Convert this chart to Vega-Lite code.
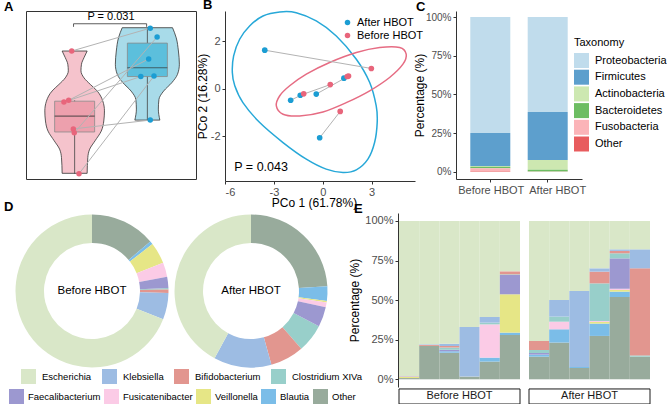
{
  "$schema": "https://vega.github.io/schema/vega-lite/v6.json",
  "background": "white",
  "padding": {"left": 3, "top": -2, "right": 0, "bottom": 0},
  "config": {
    "font": "Liberation Sans",
    "view": {"stroke": null},
    "axis": {"labelFontSize": 11, "labelColor": "#4d4d4d", "titleFontSize": 12, "titleFontWeight": "normal", "titleColor": "#000000", "tickColor": "#333333", "domainColor": "#333333", "tickSize": 3, "grid": false, "labelPadding": 2},
    "legend": {"labelFontSize": 11, "labelColor": "#000000", "titleFontWeight": "normal", "titleColor": "#000000"},
    "title": {"fontSize": 13, "fontWeight": "bold", "anchor": "start", "frame": "group", "baseline": "alphabetic", "offset": -3, "color": "#000000"}
  },
  "datasets": {
    "violin": [
      {"g": "Before HBOT", "y": 0.19, "lo": 0.828, "hi": 1.172},
      {"g": "Before HBOT", "y": 0.55, "lo": 0.819, "hi": 1.181},
      {"g": "Before HBOT", "y": 0.74, "lo": 0.793, "hi": 1.207},
      {"g": "Before HBOT", "y": 0.93, "lo": 0.719, "hi": 1.281},
      {"g": "Before HBOT", "y": 1.15, "lo": 0.634, "hi": 1.366},
      {"g": "Before HBOT", "y": 1.38, "lo": 0.599, "hi": 1.401},
      {"g": "Before HBOT", "y": 1.61, "lo": 0.590, "hi": 1.410},
      {"g": "Before HBOT", "y": 1.83, "lo": 0.612, "hi": 1.388},
      {"g": "Before HBOT", "y": 2.06, "lo": 0.689, "hi": 1.311},
      {"g": "Before HBOT", "y": 2.21, "lo": 0.784, "hi": 1.216},
      {"g": "Before HBOT", "y": 2.36, "lo": 0.871, "hi": 1.129},
      {"g": "Before HBOT", "y": 2.52, "lo": 0.913, "hi": 1.087},
      {"g": "Before HBOT", "y": 2.67, "lo": 0.906, "hi": 1.094},
      {"g": "Before HBOT", "y": 2.82, "lo": 0.871, "hi": 1.129},
      {"g": "Before HBOT", "y": 2.97, "lo": 0.828, "hi": 1.172},
      {"g": "After HBOT", "y": 1.40, "lo": 1.828, "hi": 2.172},
      {"g": "After HBOT", "y": 1.65, "lo": 1.849, "hi": 2.151},
      {"g": "After HBOT", "y": 1.87, "lo": 1.841, "hi": 2.159},
      {"g": "After HBOT", "y": 2.06, "lo": 1.776, "hi": 2.224},
      {"g": "After HBOT", "y": 2.25, "lo": 1.664, "hi": 2.336},
      {"g": "After HBOT", "y": 2.44, "lo": 1.586, "hi": 2.414},
      {"g": "After HBOT", "y": 2.67, "lo": 1.560, "hi": 2.440},
      {"g": "After HBOT", "y": 2.97, "lo": 1.573, "hi": 2.427},
      {"g": "After HBOT", "y": 3.27, "lo": 1.603, "hi": 2.397},
      {"g": "After HBOT", "y": 3.50, "lo": 1.654, "hi": 2.346}
    ],
    "box": [
      {"g": "Before HBOT", "c": 1, "q1": 1.13, "med": 1.49, "q3": 1.83, "lo": 0.18, "hi": 1.85},
      {"g": "After HBOT", "c": 2, "q1": 2.39, "med": 2.59, "q3": 3.15, "lo": 1.40, "hi": 3.49}
    ],
    "apts": [
      {"g": "Before HBOT", "pair": 1, "x": 0.960, "y": 2.97},
      {"g": "Before HBOT", "pair": 2, "x": 0.853, "y": 1.81},
      {"g": "Before HBOT", "pair": 3, "x": 0.918, "y": 1.85},
      {"g": "Before HBOT", "pair": 4, "x": 0.982, "y": 1.20},
      {"g": "Before HBOT", "pair": 5, "x": 0.995, "y": 1.11},
      {"g": "Before HBOT", "pair": 6, "x": 1.060, "y": 0.18},
      {"g": "After HBOT", "pair": 1, "x": 2.040, "y": 3.49},
      {"g": "After HBOT", "pair": 2, "x": 1.910, "y": 2.39},
      {"g": "After HBOT", "pair": 3, "x": 2.018, "y": 2.79},
      {"g": "After HBOT", "pair": 4, "x": 2.040, "y": 1.40},
      {"g": "After HBOT", "pair": 5, "x": 2.134, "y": 3.29},
      {"g": "After HBOT", "pair": 6, "x": 2.091, "y": 2.40}
    ],
    "bracket": [
      {"o": 1, "x": 0.985, "y": 3.52},
      {"o": 2, "x": 0.985, "y": 3.59},
      {"o": 3, "x": 1.99, "y": 3.59},
      {"o": 4, "x": 1.99, "y": 3.52}
    ],
    "bpts": [
      {"g": "After HBOT", "pair": 1, "x": -3.56, "y": 1.63},
      {"g": "After HBOT", "pair": 2, "x": -1.97, "y": -0.48},
      {"g": "After HBOT", "pair": 3, "x": -1.38, "y": -0.27},
      {"g": "After HBOT", "pair": 4, "x": -0.40, "y": -0.22},
      {"g": "After HBOT", "pair": 5, "x": 1.30, "y": 0.45},
      {"g": "After HBOT", "pair": 6, "x": -0.19, "y": -2.06},
      {"g": "Before HBOT", "pair": 1, "x": 2.98, "y": 0.86},
      {"g": "Before HBOT", "pair": 2, "x": -1.17, "y": -0.21},
      {"g": "Before HBOT", "pair": 3, "x": 0.46, "y": 0.18},
      {"g": "Before HBOT", "pair": 4, "x": 1.58, "y": 0.54},
      {"g": "Before HBOT", "pair": 5, "x": 1.50, "y": 0.52},
      {"g": "Before HBOT", "pair": 6, "x": 1.07, "y": -0.95}
    ],
    "ell": [
      {"g": "After HBOT", "i": 1, "x": -5.55, "y": 0.69},
      {"g": "After HBOT", "i": 2, "x": -5.47, "y": 1.39},
      {"g": "After HBOT", "i": 3, "x": -5.10, "y": 2.09},
      {"g": "After HBOT", "i": 4, "x": -4.49, "y": 2.65},
      {"g": "After HBOT", "i": 5, "x": -3.67, "y": 3.07},
      {"g": "After HBOT", "i": 6, "x": -2.64, "y": 3.24},
      {"g": "After HBOT", "i": 7, "x": -1.63, "y": 3.21},
      {"g": "After HBOT", "i": 8, "x": -0.40, "y": 2.86},
      {"g": "After HBOT", "i": 9, "x": 0.83, "y": 2.23},
      {"g": "After HBOT", "i": 10, "x": 2.06, "y": 1.25},
      {"g": "After HBOT", "i": 11, "x": 2.88, "y": 0.27},
      {"g": "After HBOT", "i": 12, "x": 3.28, "y": -0.72},
      {"g": "After HBOT", "i": 13, "x": 3.34, "y": -1.42},
      {"g": "After HBOT", "i": 14, "x": 3.18, "y": -2.26},
      {"g": "After HBOT", "i": 15, "x": 2.77, "y": -2.96},
      {"g": "After HBOT", "i": 16, "x": 2.06, "y": -3.41},
      {"g": "After HBOT", "i": 17, "x": 1.24, "y": -3.52},
      {"g": "After HBOT", "i": 18, "x": 0.21, "y": -3.38},
      {"g": "After HBOT", "i": 19, "x": -1.01, "y": -2.96},
      {"g": "After HBOT", "i": 20, "x": -2.44, "y": -2.26},
      {"g": "After HBOT", "i": 21, "x": -3.87, "y": -1.42},
      {"g": "After HBOT", "i": 22, "x": -4.90, "y": -0.58},
      {"g": "After HBOT", "i": 23, "x": -5.40, "y": 0.13},
      {"g": "Before HBOT", "i": 1, "x": -2.85, "y": -0.72},
      {"g": "Before HBOT", "i": 2, "x": -2.64, "y": -0.29},
      {"g": "Before HBOT", "i": 3, "x": -2.03, "y": 0.13},
      {"g": "Before HBOT", "i": 4, "x": -1.01, "y": 0.62},
      {"g": "Before HBOT", "i": 5, "x": 0.42, "y": 1.11},
      {"g": "Before HBOT", "i": 6, "x": 2.06, "y": 1.53},
      {"g": "Before HBOT", "i": 7, "x": 3.49, "y": 1.74},
      {"g": "Before HBOT", "i": 8, "x": 4.72, "y": 1.74},
      {"g": "Before HBOT", "i": 9, "x": 5.12, "y": 1.46},
      {"g": "Before HBOT", "i": 10, "x": 4.92, "y": 1.04},
      {"g": "Before HBOT", "i": 11, "x": 4.10, "y": 0.48},
      {"g": "Before HBOT", "i": 12, "x": 2.88, "y": -0.08},
      {"g": "Before HBOT", "i": 13, "x": 1.44, "y": -0.58},
      {"g": "Before HBOT", "i": 14, "x": 0.01, "y": -0.97},
      {"g": "Before HBOT", "i": 15, "x": -1.42, "y": -1.14},
      {"g": "Before HBOT", "i": 16, "x": -2.44, "y": -1.07}
    ],
    "phylum": [
      {"period": "Before HBOT", "taxon": "Proteobacteria", "pct": 75.0, "r": 6},
      {"period": "Before HBOT", "taxon": "Firmicutes", "pct": 21.3, "r": 5},
      {"period": "Before HBOT", "taxon": "Actinobacteria", "pct": 0.5, "r": 4},
      {"period": "Before HBOT", "taxon": "Bacteroidetes", "pct": 1.0, "r": 3},
      {"period": "Before HBOT", "taxon": "Fusobacteria", "pct": 1.9, "r": 2},
      {"period": "Before HBOT", "taxon": "Other", "pct": 0.3, "r": 1},
      {"period": "After HBOT", "taxon": "Proteobacteria", "pct": 61.4, "r": 6},
      {"period": "After HBOT", "taxon": "Firmicutes", "pct": 31.0, "r": 5},
      {"period": "After HBOT", "taxon": "Actinobacteria", "pct": 6.3, "r": 4},
      {"period": "After HBOT", "taxon": "Bacteroidetes", "pct": 1.2, "r": 3},
      {"period": "After HBOT", "taxon": "Fusobacteria", "pct": 0.05, "r": 2},
      {"period": "After HBOT", "taxon": "Other", "pct": 0.05, "r": 1}
    ],
    "donut": [
      {"period": "Before HBOT", "genus": "Other", "pct": 13.8, "r": 1},
      {"period": "Before HBOT", "genus": "Blautia", "pct": 0.7, "r": 2},
      {"period": "Before HBOT", "genus": "Veillonella", "pct": 4.5, "r": 3},
      {"period": "Before HBOT", "genus": "Fusicatenibacter", "pct": 3.0, "r": 4},
      {"period": "Before HBOT", "genus": "Faecalibacterium", "pct": 2.4, "r": 5},
      {"period": "Before HBOT", "genus": "Clostridium XIVa", "pct": 0.3, "r": 6},
      {"period": "Before HBOT", "genus": "Bifidobacterium", "pct": 0.7, "r": 7},
      {"period": "Before HBOT", "genus": "Klebsiella", "pct": 5.6, "r": 8},
      {"period": "Before HBOT", "genus": "Escherichia", "pct": 69.0, "r": 9},
      {"period": "After HBOT", "genus": "Other", "pct": 24.0, "r": 1},
      {"period": "After HBOT", "genus": "Blautia", "pct": 3.1, "r": 2},
      {"period": "After HBOT", "genus": "Veillonella", "pct": 0.3, "r": 3},
      {"period": "After HBOT", "genus": "Fusicatenibacter", "pct": 1.0, "r": 4},
      {"period": "After HBOT", "genus": "Faecalibacterium", "pct": 4.2, "r": 5},
      {"period": "After HBOT", "genus": "Clostridium XIVa", "pct": 6.0, "r": 6},
      {"period": "After HBOT", "genus": "Bifidobacterium", "pct": 7.1, "r": 7},
      {"period": "After HBOT", "genus": "Klebsiella", "pct": 12.2, "r": 8},
      {"period": "After HBOT", "genus": "Escherichia", "pct": 42.1, "r": 9}
    ],
    "samples": [
      {"period": "Before HBOT", "sample": 1, "genus": "Other", "pct": 0.8, "r": 1},
      {"period": "Before HBOT", "sample": 1, "genus": "Veillonella", "pct": 0.7, "r": 3},
      {"period": "Before HBOT", "sample": 1, "genus": "Fusicatenibacter", "pct": 0.2, "r": 4},
      {"period": "Before HBOT", "sample": 1, "genus": "Bifidobacterium", "pct": 0.2, "r": 7},
      {"period": "Before HBOT", "sample": 1, "genus": "Klebsiella", "pct": 0.2, "r": 8},
      {"period": "Before HBOT", "sample": 1, "genus": "Escherichia", "pct": 97.9, "r": 9},
      {"period": "Before HBOT", "sample": 2, "genus": "Other", "pct": 21.1, "r": 1},
      {"period": "Before HBOT", "sample": 2, "genus": "Bifidobacterium", "pct": 0.6, "r": 7},
      {"period": "Before HBOT", "sample": 2, "genus": "Klebsiella", "pct": 0.4, "r": 8},
      {"period": "Before HBOT", "sample": 2, "genus": "Escherichia", "pct": 77.9, "r": 9},
      {"period": "Before HBOT", "sample": 3, "genus": "Other", "pct": 16.8, "r": 1},
      {"period": "Before HBOT", "sample": 3, "genus": "Blautia", "pct": 1.0, "r": 2},
      {"period": "Before HBOT", "sample": 3, "genus": "Faecalibacterium", "pct": 0.8, "r": 5},
      {"period": "Before HBOT", "sample": 3, "genus": "Clostridium XIVa", "pct": 1.5, "r": 6},
      {"period": "Before HBOT", "sample": 3, "genus": "Bifidobacterium", "pct": 1.0, "r": 7},
      {"period": "Before HBOT", "sample": 3, "genus": "Klebsiella", "pct": 1.4, "r": 8},
      {"period": "Before HBOT", "sample": 3, "genus": "Escherichia", "pct": 77.5, "r": 9},
      {"period": "Before HBOT", "sample": 4, "genus": "Other", "pct": 1.7, "r": 1},
      {"period": "Before HBOT", "sample": 4, "genus": "Klebsiella", "pct": 31.4, "r": 8},
      {"period": "Before HBOT", "sample": 4, "genus": "Escherichia", "pct": 66.9, "r": 9},
      {"period": "Before HBOT", "sample": 5, "genus": "Other", "pct": 11.2, "r": 1},
      {"period": "Before HBOT", "sample": 5, "genus": "Blautia", "pct": 2.5, "r": 2},
      {"period": "Before HBOT", "sample": 5, "genus": "Fusicatenibacter", "pct": 21.0, "r": 4},
      {"period": "Before HBOT", "sample": 5, "genus": "Clostridium XIVa", "pct": 1.1, "r": 6},
      {"period": "Before HBOT", "sample": 5, "genus": "Klebsiella", "pct": 3.6, "r": 8},
      {"period": "Before HBOT", "sample": 5, "genus": "Escherichia", "pct": 60.6, "r": 9},
      {"period": "Before HBOT", "sample": 6, "genus": "Other", "pct": 28.0, "r": 1},
      {"period": "Before HBOT", "sample": 6, "genus": "Blautia", "pct": 1.5, "r": 2},
      {"period": "Before HBOT", "sample": 6, "genus": "Veillonella", "pct": 24.2, "r": 3},
      {"period": "Before HBOT", "sample": 6, "genus": "Faecalibacterium", "pct": 12.2, "r": 5},
      {"period": "Before HBOT", "sample": 6, "genus": "Clostridium XIVa", "pct": 0.4, "r": 6},
      {"period": "Before HBOT", "sample": 6, "genus": "Bifidobacterium", "pct": 1.9, "r": 7},
      {"period": "Before HBOT", "sample": 6, "genus": "Escherichia", "pct": 31.8, "r": 9},
      {"period": "After HBOT", "sample": 1, "genus": "Other", "pct": 14.3, "r": 1},
      {"period": "After HBOT", "sample": 1, "genus": "Blautia", "pct": 1.3, "r": 2},
      {"period": "After HBOT", "sample": 1, "genus": "Faecalibacterium", "pct": 1.0, "r": 5},
      {"period": "After HBOT", "sample": 1, "genus": "Clostridium XIVa", "pct": 1.9, "r": 6},
      {"period": "After HBOT", "sample": 1, "genus": "Bifidobacterium", "pct": 5.7, "r": 7},
      {"period": "After HBOT", "sample": 1, "genus": "Escherichia", "pct": 75.8, "r": 9},
      {"period": "After HBOT", "sample": 2, "genus": "Other", "pct": 23.2, "r": 1},
      {"period": "After HBOT", "sample": 2, "genus": "Blautia", "pct": 8.4, "r": 2},
      {"period": "After HBOT", "sample": 2, "genus": "Fusicatenibacter", "pct": 4.8, "r": 4},
      {"period": "After HBOT", "sample": 2, "genus": "Clostridium XIVa", "pct": 3.2, "r": 6},
      {"period": "After HBOT", "sample": 2, "genus": "Klebsiella", "pct": 10.5, "r": 8},
      {"period": "After HBOT", "sample": 2, "genus": "Escherichia", "pct": 49.9, "r": 9},
      {"period": "After HBOT", "sample": 3, "genus": "Other", "pct": 7.2, "r": 1},
      {"period": "After HBOT", "sample": 3, "genus": "Blautia", "pct": 0.6, "r": 2},
      {"period": "After HBOT", "sample": 3, "genus": "Klebsiella", "pct": 48.0, "r": 8},
      {"period": "After HBOT", "sample": 3, "genus": "Escherichia", "pct": 44.2, "r": 9},
      {"period": "After HBOT", "sample": 4, "genus": "Other", "pct": 27.4, "r": 1},
      {"period": "After HBOT", "sample": 4, "genus": "Blautia", "pct": 7.8, "r": 2},
      {"period": "After HBOT", "sample": 4, "genus": "Veillonella", "pct": 1.0, "r": 3},
      {"period": "After HBOT", "sample": 4, "genus": "Fusicatenibacter", "pct": 0.6, "r": 4},
      {"period": "After HBOT", "sample": 4, "genus": "Clostridium XIVa", "pct": 23.8, "r": 6},
      {"period": "After HBOT", "sample": 4, "genus": "Bifidobacterium", "pct": 7.4, "r": 7},
      {"period": "After HBOT", "sample": 4, "genus": "Klebsiella", "pct": 2.1, "r": 8},
      {"period": "After HBOT", "sample": 4, "genus": "Escherichia", "pct": 29.9, "r": 9},
      {"period": "After HBOT", "sample": 5, "genus": "Other", "pct": 52.0, "r": 1},
      {"period": "After HBOT", "sample": 5, "genus": "Blautia", "pct": 3.4, "r": 2},
      {"period": "After HBOT", "sample": 5, "genus": "Veillonella", "pct": 1.0, "r": 3},
      {"period": "After HBOT", "sample": 5, "genus": "Fusicatenibacter", "pct": 0.8, "r": 4},
      {"period": "After HBOT", "sample": 5, "genus": "Faecalibacterium", "pct": 19.2, "r": 5},
      {"period": "After HBOT", "sample": 5, "genus": "Clostridium XIVa", "pct": 3.2, "r": 6},
      {"period": "After HBOT", "sample": 5, "genus": "Bifidobacterium", "pct": 1.5, "r": 7},
      {"period": "After HBOT", "sample": 5, "genus": "Klebsiella", "pct": 1.0, "r": 8},
      {"period": "After HBOT", "sample": 5, "genus": "Escherichia", "pct": 17.9, "r": 9},
      {"period": "After HBOT", "sample": 6, "genus": "Other", "pct": 14.3, "r": 1},
      {"period": "After HBOT", "sample": 6, "genus": "Clostridium XIVa", "pct": 0.8, "r": 6},
      {"period": "After HBOT", "sample": 6, "genus": "Bifidobacterium", "pct": 55.0, "r": 7},
      {"period": "After HBOT", "sample": 6, "genus": "Klebsiella", "pct": 12.0, "r": 8},
      {"period": "After HBOT", "sample": 6, "genus": "Escherichia", "pct": 17.9, "r": 9}
    ]
  },
  "vconcat": [
    {
      "hconcat": [
        {
          "width": 170, "height": 168,
          "title": {"text": "A", "dx": -22},
          "view": {"stroke": "#333333", "strokeWidth": 1},
          "layer": [
            {
              "data": {"name": "violin"},
              "mark": {"type": "area", "orient": "horizontal", "stroke": "#333333", "strokeWidth": 0.8, "interpolate": "monotone"},
              "encoding": {
                "y": {"field": "y", "type": "quantitative", "scale": {"domain": [0.061, 3.88], "nice": false, "zero": false}, "axis": {"title": "Shannon index", "values": [1, 2, 3], "titlePadding": 2, "domain": false}},
                "x": {"field": "lo", "type": "quantitative", "scale": {"domain": [0.4, 2.6], "nice": false, "zero": false}, "axis": {"title": null, "values": [1, 2], "labelExpr": "datum.value == 1 ? 'Before HBOT' : 'After HBOT'", "domain": false}},
                "x2": {"field": "hi"},
                "detail": {"field": "g", "type": "nominal"},
                "fill": {"condition": {"test": "datum.g == 'Before HBOT'", "value": "#f5c3cc"}, "value": "#a8dbe9"}
              }
            },
            {
              "data": {"name": "box"},
              "mark": {"type": "rule", "color": "#444444", "strokeWidth": 0.8},
              "encoding": {
                "x": {"field": "c", "type": "quantitative", "scale": {"domain": [0.4, 2.6], "nice": false, "zero": false}, "axis": null},
                "y": {"field": "lo", "type": "quantitative", "scale": {"domain": [0.061, 3.88], "nice": false, "zero": false}, "axis": null},
                "y2": {"field": "hi"}
              }
            },
            {
              "data": {"name": "box"},
              "mark": {"type": "bar", "width": 40, "stroke": "#8a8a8a", "strokeWidth": 0.8},
              "encoding": {
                "x": {"field": "c", "type": "quantitative", "scale": {"domain": [0.4, 2.6], "nice": false, "zero": false}, "axis": null},
                "y": {"field": "q1", "type": "quantitative", "scale": {"domain": [0.061, 3.88], "nice": false, "zero": false}, "axis": null},
                "y2": {"field": "q3"},
                "fill": {"condition": {"test": "datum.g == 'Before HBOT'", "value": "#eda0ad"}, "value": "#5cbfdc"}
              }
            },
            {
              "data": {"name": "box"},
              "mark": {"type": "tick", "orient": "horizontal", "size": 40, "thickness": 1.2, "color": "#333333"},
              "encoding": {
                "x": {"field": "c", "type": "quantitative", "scale": {"domain": [0.4, 2.6], "nice": false, "zero": false}, "axis": null},
                "y": {"field": "med", "type": "quantitative", "scale": {"domain": [0.061, 3.88], "nice": false, "zero": false}, "axis": null}
              }
            },
            {
              "data": {"name": "apts"},
              "mark": {"type": "line", "color": "#b3b3b3", "strokeWidth": 1},
              "encoding": {
                "x": {"field": "x", "type": "quantitative", "scale": {"domain": [0.4, 2.6], "nice": false, "zero": false}, "axis": null},
                "y": {"field": "y", "type": "quantitative", "scale": {"domain": [0.061, 3.88], "nice": false, "zero": false}, "axis": null},
                "detail": {"field": "pair", "type": "nominal"}
              }
            },
            {
              "data": {"name": "apts"},
              "mark": {"type": "point", "filled": true, "size": 30, "opacity": 1},
              "encoding": {
                "x": {"field": "x", "type": "quantitative", "scale": {"domain": [0.4, 2.6], "nice": false, "zero": false}, "axis": null},
                "y": {"field": "y", "type": "quantitative", "scale": {"domain": [0.061, 3.88], "nice": false, "zero": false}, "axis": null},
                "color": {"condition": {"test": "datum.g == 'Before HBOT'", "value": "#e8657b"}, "value": "#1b9dd3"}
              }
            },
            {
              "data": {"name": "bracket"},
              "mark": {"type": "line", "color": "#333333", "strokeWidth": 0.8},
              "encoding": {
                "x": {"field": "x", "type": "quantitative", "scale": {"domain": [0.4, 2.6], "nice": false, "zero": false}, "axis": null},
                "y": {"field": "y", "type": "quantitative", "scale": {"domain": [0.061, 3.88], "nice": false, "zero": false}, "axis": null},
                "order": {"field": "o", "type": "quantitative"}
              }
            },
            {
              "data": {"values": [{"label": "P = 0.031", "x": 1.5, "y": 3.74}]},
              "mark": {"type": "text", "fontSize": 11, "color": "#000000"},
              "encoding": {
                "x": {"field": "x", "type": "quantitative", "scale": {"domain": [0.4, 2.6], "nice": false, "zero": false}, "axis": null},
                "y": {"field": "y", "type": "quantitative", "scale": {"domain": [0.061, 3.88], "nice": false, "zero": false}, "axis": null},
                "text": {"field": "label"}
              }
            }
          ]
        },
        {"width": 29, "height": 1, "data": {"values": []}, "mark": "point"},
        {
          "width": 190, "height": 170,
          "title": {"text": "B", "dx": -22},
          "layer": [
            {
              "data": {"name": "ell"},
              "transform": [{"filter": "datum.g == 'After HBOT'"}],
              "mark": {"type": "line", "interpolate": "cardinal-closed", "color": "#27a8d8", "strokeWidth": 1.5},
              "encoding": {
                "x": {"field": "x", "type": "quantitative", "scale": {"domain": [-6, 5.66], "nice": false, "zero": false}, "axis": {"title": "PCo 1 (61.78%)", "values": [-6, -3, 0, 3], "labelExpr": "toString(datum.value)", "titlePadding": 0, "titleX": 89}},
                "y": {"field": "y", "type": "quantitative", "scale": {"domain": [-3.88, 3.28], "nice": false, "zero": false}, "axis": {"title": "PCo 2 (16.28%)", "values": [-2, 0, 2], "labelExpr": "toString(datum.value)", "titlePadding": 1}},
                "order": {"field": "i", "type": "quantitative"}
              }
            },
            {
              "data": {"name": "ell"},
              "transform": [{"filter": "datum.g == 'Before HBOT'"}],
              "mark": {"type": "line", "interpolate": "cardinal-closed", "color": "#e66c83", "strokeWidth": 1.5},
              "encoding": {
                "x": {"field": "x", "type": "quantitative", "scale": {"domain": [-6, 5.66], "nice": false, "zero": false}, "axis": null},
                "y": {"field": "y", "type": "quantitative", "scale": {"domain": [-3.88, 3.28], "nice": false, "zero": false}, "axis": null},
                "order": {"field": "i", "type": "quantitative"}
              }
            },
            {
              "data": {"name": "bpts"},
              "mark": {"type": "line", "color": "#b3b3b3", "strokeWidth": 1},
              "encoding": {
                "x": {"field": "x", "type": "quantitative", "scale": {"domain": [-6, 5.66], "nice": false, "zero": false}, "axis": null},
                "y": {"field": "y", "type": "quantitative", "scale": {"domain": [-3.88, 3.28], "nice": false, "zero": false}, "axis": null},
                "detail": {"field": "pair", "type": "nominal"}
              }
            },
            {
              "data": {"name": "bpts"},
              "mark": {"type": "point", "filled": true, "size": 32, "opacity": 1},
              "encoding": {
                "x": {"field": "x", "type": "quantitative", "scale": {"domain": [-6, 5.66], "nice": false, "zero": false}, "axis": null},
                "y": {"field": "y", "type": "quantitative", "scale": {"domain": [-3.88, 3.28], "nice": false, "zero": false}, "axis": null},
                "color": {"field": "g", "type": "nominal", "scale": {"domain": ["After HBOT", "Before HBOT"], "range": ["#1b9dd3", "#e8657b"]}, "legend": {"orient": "none", "legendX": 117, "legendY": 6, "title": null, "symbolType": "circle", "symbolSize": 30, "labelFontSize": 11, "labelOffset": 4, "rowPadding": 1}}
              }
            },
            {
              "data": {"values": [{"label": "P = 0.043", "x": -5.43, "y": -3.27}]},
              "mark": {"type": "text", "fontSize": 12.5, "align": "left", "color": "#000000"},
              "encoding": {
                "x": {"field": "x", "type": "quantitative", "scale": {"domain": [-6, 5.66], "nice": false, "zero": false}, "axis": null},
                "y": {"field": "y", "type": "quantitative", "scale": {"domain": [-3.88, 3.28], "nice": false, "zero": false}, "axis": null},
                "text": {"field": "label"}
              }
            }
          ],
          "resolve": {"scale": {"x": "independent", "y": "independent"}, "axis": {"x": "independent", "y": "independent"}}
        },
        {"width": 41, "height": 1, "data": {"values": []}, "mark": "point"},
        {
          "width": 126, "height": 168,
          "title": {"text": "C", "dx": -40},
          "data": {"name": "phylum"},
          "mark": {"type": "bar"},
          "encoding": {
            "x": {"field": "period", "type": "nominal", "sort": ["Before HBOT", "After HBOT"], "scale": {"paddingInner": 0.303, "paddingOuter": 0.249}, "axis": {"title": null, "labelAngle": 0, "labelOffset": {"condition": {"test": "datum.value == 'After HBOT'", "value": 10}, "value": 1}}},
            "y": {"field": "pct", "type": "quantitative", "stack": "normalize", "scale": {"domain": [-0.047, 1.039], "nice": false}, "axis": {"title": "Percentage (%)", "values": [0, 0.25, 0.5, 0.75, 1], "format": ".0%", "labelFontSize": 10, "titlePadding": -1}},
            "color": {"field": "taxon", "type": "nominal", "scale": {"domain": ["Proteobacteria", "Firmicutes", "Actinobacteria", "Bacteroidetes", "Fusobacteria", "Other"], "range": ["#c0dcec", "#5d9fcd", "#cde8b1", "#6dbd62", "#fbb4b8", "#e85c5e"]}, "legend": {"orient": "none", "legendX": 118, "legendY": 26, "title": "Taxonomy", "titleFontSize": 11, "titlePadding": 5, "symbolType": "square", "symbolSize": 225, "symbolStrokeWidth": 0, "labelFontSize": 11, "labelOffset": 6, "rowPadding": 1.7}},
            "order": {"field": "r", "type": "quantitative"}
          }
        }
      ],
      "spacing": 0,
      "bounds": "flush",
      "resolve": {"scale": {"color": "independent"}, "legend": {"color": "independent"}}
    },
    {
      "hconcat": [
        {
          "width": 291, "height": 156,
          "title": {"text": "D", "dx": -22, "offset": -1},
          "layer": [
            {
              "data": {"name": "donut"},
              "transform": [
                {"stack": "pct", "groupby": ["period"], "sort": [{"field": "r", "order": "ascending"}], "as": ["s0", "s1"], "offset": "normalize"},
                {"filter": {"field": "genus", "oneOf": ["Escherichia", "Klebsiella", "Bifidobacterium", "Clostridium XIVa"]}}
              ],
              "mark": {"type": "arc", "innerRadius": 48, "outerRadius": 76.5},
              "encoding": {
                "x": {"field": "period", "type": "nominal", "scale": {"type": "point", "domain": ["Before HBOT", "After HBOT"], "padding": 0.415}, "axis": null},
                "theta": {"field": "s0", "type": "quantitative", "stack": null, "scale": {"domain": [0, 1], "range": [0, 6.2832]}},
                "theta2": {"field": "s1"},
                "color": {"field": "genus", "type": "nominal", "scale": {"domain": ["Escherichia", "Klebsiella", "Bifidobacterium", "Clostridium XIVa"], "range": ["#d9e7c8", "#9dbce3", "#e2968f", "#98cfca"]}, "legend": {"orient": "none", "legendX": -5, "legendY": 156, "direction": "horizontal", "title": null, "symbolType": "square", "symbolSize": 225, "symbolStrokeWidth": 0, "labelFontSize": 9.5, "labelOffset": 6, "columnPadding": 10}}
              }
            },
            {
              "data": {"name": "donut"},
              "transform": [
                {"stack": "pct", "groupby": ["period"], "sort": [{"field": "r", "order": "ascending"}], "as": ["s0", "s1"], "offset": "normalize"},
                {"filter": {"field": "genus", "oneOf": ["Faecalibacterium", "Fusicatenibacter", "Veillonella", "Blautia", "Other"]}}
              ],
              "mark": {"type": "arc", "innerRadius": 48, "outerRadius": 76.5},
              "encoding": {
                "x": {"field": "period", "type": "nominal", "scale": {"type": "point", "domain": ["Before HBOT", "After HBOT"], "padding": 0.415}, "axis": null},
                "theta": {"field": "s0", "type": "quantitative", "stack": null, "scale": {"domain": [0, 1], "range": [0, 6.2832]}},
                "theta2": {"field": "s1"},
                "color": {"field": "genus", "type": "nominal", "scale": {"domain": ["Faecalibacterium", "Fusicatenibacter", "Veillonella", "Blautia", "Other"], "range": ["#9c98d0", "#fbcbe6", "#e6e686", "#7bbde8", "#98ab9c"]}, "legend": {"orient": "none", "legendX": -17, "legendY": 176, "direction": "horizontal", "title": null, "symbolType": "square", "symbolSize": 225, "symbolStrokeWidth": 0, "labelFontSize": 9.5, "labelOffset": 4, "columnPadding": 3}}
              }
            },
            {
              "data": {"values": [{"period": "Before HBOT"}, {"period": "After HBOT"}]},
              "mark": {"type": "text", "fontSize": 11.5, "color": "#000000"},
              "encoding": {
                "x": {"field": "period", "type": "nominal", "scale": {"type": "point", "domain": ["Before HBOT", "After HBOT"], "padding": 0.415}, "axis": null},
                "text": {"field": "period"}
              }
            }
          ],
          "resolve": {"scale": {"color": "independent"}, "legend": {"color": "independent"}}
        },
        {"width": 82, "height": 1, "data": {"values": []}, "mark": "point"},
        {
          "width": 121, "height": 174,
          "title": {"text": "E", "dx": -45, "offset": -3},
          "layer": [
            {
              "data": {"name": "samples"},
              "transform": [{"filter": "datum.period == 'Before HBOT'"}],
              "mark": {"type": "bar"},
              "encoding": {
                "x": {"field": "sample", "type": "ordinal", "scale": {"paddingInner": 0, "paddingOuter": 0}, "axis": null},
                "y": {"field": "pct", "type": "quantitative", "stack": "zero", "scale": {"domain": [-4.86, 105.05], "nice": false}, "axis": {"title": "Percentage (%)", "values": [0, 25, 50, 75, 100], "labelExpr": "datum.value + '%'", "titlePadding": 3, "offset": 1, "zindex": 1}},
                "color": {"field": "genus", "type": "nominal", "scale": {"domain": ["Escherichia", "Klebsiella", "Bifidobacterium", "Clostridium XIVa", "Faecalibacterium", "Fusicatenibacter", "Veillonella", "Blautia", "Other"], "range": ["#d9e7c8", "#9dbce3", "#e2968f", "#98cfca", "#9c98d0", "#fbcbe6", "#e6e686", "#7bbde8", "#98ab9c"]}, "legend": null},
                "order": {"field": "r", "type": "quantitative"}
              }
            },
            {
              "data": {"values": [{"label": "Before HBOT"}]},
              "mark": {"type": "rect", "fill": "white", "stroke": "#1a1a1a", "strokeWidth": 1},
              "encoding": {
                "x": {"datum": 0, "type": "quantitative", "scale": {"domain": [0, 1], "nice": false}, "axis": null},
                "x2": {"datum": 1},
                "y": {"datum": -6.1, "type": "quantitative", "scale": {"domain": [-4.86, 105.05], "nice": false}, "axis": null},
                "y2": {"datum": -15.6}
              }
            },
            {
              "data": {"values": [{"label": "Before HBOT"}]},
              "mark": {"type": "text", "fontSize": 11, "color": "#1a1a1a"},
              "encoding": {
                "x": {"datum": 0.5, "type": "quantitative", "scale": {"domain": [0, 1], "nice": false}, "axis": null},
                "y": {"datum": -10.85, "type": "quantitative", "scale": {"domain": [-4.86, 105.05], "nice": false}, "axis": null},
                "text": {"field": "label"}
              }
            }
          ],
          "resolve": {"scale": {"x": "independent", "y": "independent"}, "axis": {"x": "independent", "y": "independent"}}
        },
        {"width": 9, "height": 1, "data": {"values": []}, "mark": "point"},
        {
          "width": 121, "height": 174,
          "layer": [
            {
              "data": {"name": "samples"},
              "transform": [{"filter": "datum.period == 'After HBOT'"}],
              "mark": {"type": "bar"},
              "encoding": {
                "x": {"field": "sample", "type": "ordinal", "scale": {"paddingInner": 0, "paddingOuter": 0}, "axis": null},
                "y": {"field": "pct", "type": "quantitative", "stack": "zero", "scale": {"domain": [-4.86, 105.05], "nice": false}, "axis": null},
                "color": {"field": "genus", "type": "nominal", "scale": {"domain": ["Escherichia", "Klebsiella", "Bifidobacterium", "Clostridium XIVa", "Faecalibacterium", "Fusicatenibacter", "Veillonella", "Blautia", "Other"], "range": ["#d9e7c8", "#9dbce3", "#e2968f", "#98cfca", "#9c98d0", "#fbcbe6", "#e6e686", "#7bbde8", "#98ab9c"]}, "legend": null},
                "order": {"field": "r", "type": "quantitative"}
              }
            },
            {
              "data": {"values": [{"label": "After HBOT"}]},
              "mark": {"type": "rect", "fill": "white", "stroke": "#1a1a1a", "strokeWidth": 1},
              "encoding": {
                "x": {"datum": 0, "type": "quantitative", "scale": {"domain": [0, 1], "nice": false}, "axis": null},
                "x2": {"datum": 1},
                "y": {"datum": -6.1, "type": "quantitative", "scale": {"domain": [-4.86, 105.05], "nice": false}, "axis": null},
                "y2": {"datum": -15.6}
              }
            },
            {
              "data": {"values": [{"label": "After HBOT"}]},
              "mark": {"type": "text", "fontSize": 11, "color": "#1a1a1a"},
              "encoding": {
                "x": {"datum": 0.5, "type": "quantitative", "scale": {"domain": [0, 1], "nice": false}, "axis": null},
                "y": {"datum": -10.85, "type": "quantitative", "scale": {"domain": [-4.86, 105.05], "nice": false}, "axis": null},
                "text": {"field": "label"}
              }
            }
          ],
          "resolve": {"scale": {"x": "independent", "y": "independent"}, "axis": {"x": "independent", "y": "independent"}}
        }
      ],
      "spacing": 0,
      "bounds": "flush",
      "resolve": {"scale": {"color": "independent"}, "legend": {"color": "independent"}}
    }
  ],
  "spacing": -7,
  "bounds": "full",
  "resolve": {"scale": {"color": "independent"}, "legend": {"color": "independent"}}
}
